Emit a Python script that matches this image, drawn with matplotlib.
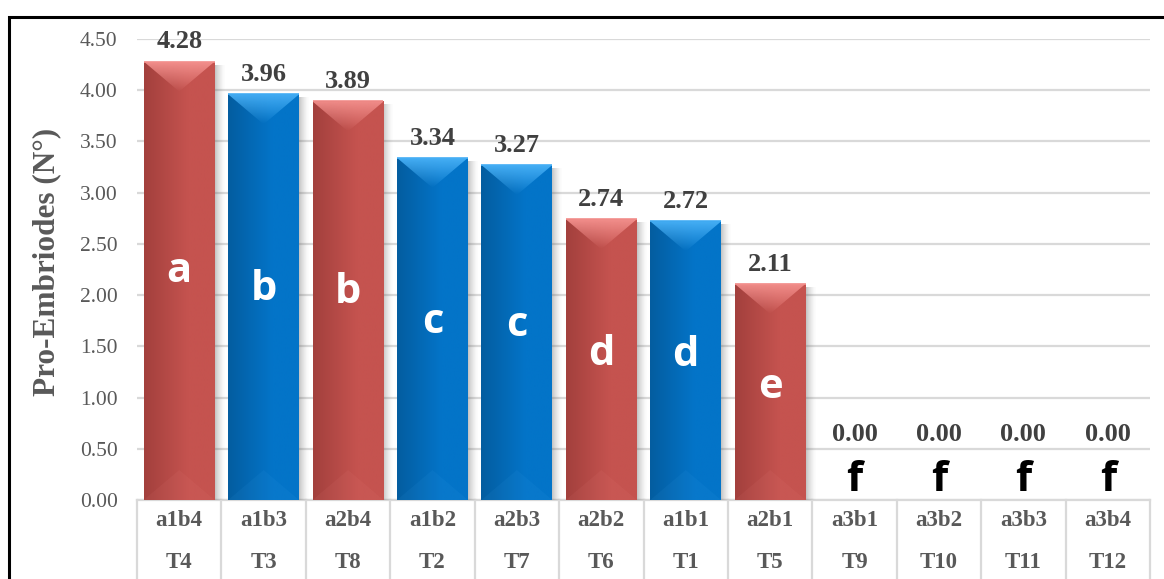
import numpy as np
import matplotlib
matplotlib.use("Agg")
import matplotlib.pyplot as plt
from matplotlib.patches import Polygon, Rectangle
from matplotlib.colors import to_rgb
import matplotlib.transforms as mtransforms

# ---------------- data ----------------
factors = ["a1b4", "a1b3", "a2b4", "a1b2", "a2b3", "a2b2", "a1b1", "a2b1",
           "a3b1", "a3b2", "a3b3", "a3b4"]
treatments = ["T4", "T3", "T8", "T2", "T7", "T6", "T1", "T5",
              "T9", "T10", "T11", "T12"]
values = [4.28, 3.96, 3.89, 3.34, 3.27, 2.74, 2.72, 2.11, 0.00, 0.00, 0.00, 0.00]
letters = ["a", "b", "b", "c", "c", "d", "d", "e", "f", "f", "f", "f"]
groups = ["red", "blue", "red", "blue", "blue", "red", "blue", "red",
          "red", "red", "red", "red"]
yticks = [0.0, 0.5, 1.0, 1.5, 2.0, 2.5, 3.0, 3.5, 4.0, 4.5]
ylabel = "Pro-Embriodes (N°)"

# ---------------- style ----------------
palette = {
    "red": {"left": "#A3403D", "right": "#C5534F", "hi": "#F28E8B"},
    "blue": {"left": "#045DA0", "right": "#0374C8", "hi": "#45AEF5"},
}
W, H = 1164, 579
fig = plt.figure(figsize=(W / 100, H / 100), dpi=100)
fig.patch.set_facecolor("white")

ax = fig.add_axes([137 / W, 79 / H, (1150 - 137) / W, (500 - 39) / H])
ax.set_xlim(-0.5, len(values) - 0.5)
ax.set_ylim(0, 4.5)
for s in ax.spines.values():
    s.set_visible(False)
ax.set_yticks(yticks)
ax.set_yticklabels([f"{v:.2f}" for v in yticks], family="Liberation Serif",
                   fontsize=15.5, color="#595959")
ax.tick_params(axis="y", length=0, pad=14)
ax.set_xticks([])
ax.yaxis.grid(True, color="#D9D9D9", linewidth=1.6, zorder=0)
ax.set_axisbelow(True)
ax.set_ylabel(ylabel, family="Liberation Serif", fontweight="bold",
              fontsize=22.5, color="#595959")
ax.yaxis.set_label_coords(-0.075, 0.516)

x = np.arange(len(values))
bw = 0.84
bars = ax.bar(x, values, width=bw, color="none", zorder=3, linewidth=0)

px_y = 4.5 / 461.0          # data units per pixel (y)
px_x = 1.0 / 84.4           # data units per pixel (x)

for b, g in zip(bars, groups):
    h = b.get_height()
    if h <= 0:
        continue
    x0 = b.get_x()
    x1 = x0 + b.get_width()
    c = palette[g]
    # shadow to the right
    nsh = 10
    for k in range(nsh):
        a = 0.32 * (1 - k / nsh) ** 1.5
        ax.add_patch(Rectangle((x1 + k * px_x, 0), px_x, h - 3 * px_y,
                               facecolor="#505050", alpha=a, linewidth=0, zorder=2))
    # horizontal gradient body
    lc, rc = np.array(to_rgb(c["left"])), np.array(to_rgb(c["right"]))
    t = np.linspace(0, 1, 64)
    tt = np.clip(t * 1.6, 0, 1)
    grad = (lc[None, :] * (1 - tt[:, None]) + rc[None, :] * tt[:, None])[None, :, :]
    im = ax.imshow(grad, extent=(x0, x1, 0, h), aspect="auto", zorder=3,
                   interpolation="bilinear")
    im.set_clip_path(b)
    # top V highlight
    depth = 30 * px_y
    tri = Polygon([[x0, h], [x1, h], [(x0 + x1) / 2, h - depth]], closed=True,
                  facecolor="none", edgecolor="none", zorder=4)
    ax.add_patch(tri)
    hc = np.array(to_rgb(c["hi"]))
    n = 64
    rgba = np.zeros((n, 2, 4))
    rgba[:, :, :3] = hc
    rgba[:, :, 3] = np.linspace(1.0, 0.0, n)[:, None]
    im2 = ax.imshow(rgba, extent=(x0, x1, h - depth, h), aspect="auto",
                    zorder=4, interpolation="bilinear", origin="upper")
    im2.set_clip_path(tri)
    # bottom V (subtle)
    btri = Polygon([[x0, 0], [x1, 0], [(x0 + x1) / 2, depth]], closed=True,
                   facecolor=hc, alpha=0.08, edgecolor="none", zorder=4)
    ax.add_patch(btri)
    # top edge line
    ax.plot([x0, x1], [h, h], color=hc, linewidth=1.2, zorder=5,
            solid_capstyle="butt")

# value labels
for xi, v in zip(x, values):
    if v > 0:
        ax.annotate(f"{v:.2f}", (xi, v), xytext=(0, 6), textcoords="offset points",
                    ha="center", va="bottom", family="Liberation Serif",
                    fontweight="bold", fontsize=19, color="#404040",
                    annotation_clip=False, zorder=6)
    else:
        ax.text(xi, 0.53, f"{v:.2f}", ha="center", va="bottom",
                family="Liberation Serif", fontweight="bold", fontsize=19,
                color="#404040", zorder=6)

# significance letters
for xi, v, L in zip(x, values, letters):
    if v > 0:
        ax.text(xi, v * 0.52, L, ha="center", va="center", family="Open Sans",
                fontweight="bold", fontsize=30, color="white", zorder=6)
    else:
        ax.text(xi, 0.19, L, ha="center", va="center", family="Open Sans",
                fontweight="bold", fontsize=30, color="black", zorder=6)

# category table below axis
trans = mtransforms.blended_transform_factory(ax.transData, ax.transAxes)
ax.plot([-0.5, len(values) - 0.5], [0, 0], transform=trans, color="#D9D9D9",
        linewidth=1.6, clip_on=False, zorder=1)
for i in range(len(values) + 1):
    ax.plot([i - 0.5, i - 0.5], [0, -0.25], transform=trans, color="#D9D9D9",
            linewidth=1.6, clip_on=False, zorder=1)
for xi, f, tr in zip(x, factors, treatments):
    ax.text(xi, -21 / 461, f, transform=trans, ha="center", va="center",
            family="Liberation Serif", fontweight="bold", fontsize=16.5,
            color="#595959")
    ax.text(xi, -62 / 461, tr, transform=trans, ha="center", va="center",
            family="Liberation Serif", fontweight="bold", fontsize=16.5,
            color="#595959")

# outer frame (top and left visible)
fig.add_artist(Rectangle((9 / W, -0.1), 1.2, 1.1 - 17 / H, transform=fig.transFigure,
                         facecolor="none", edgecolor="black", linewidth=2.2))

fig.savefig("out.png", dpi=100, facecolor="white")
